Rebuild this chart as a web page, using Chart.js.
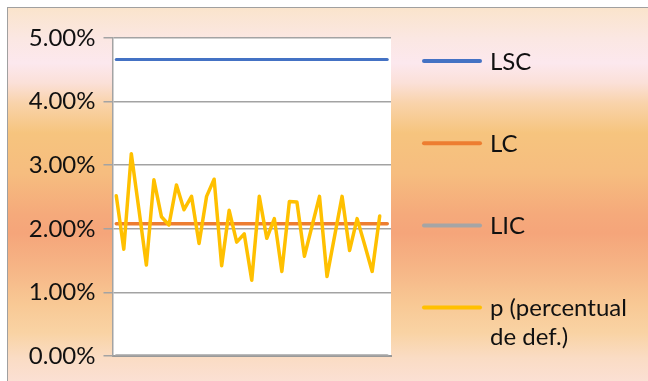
<!DOCTYPE html>
<html lang="es">
<head>
<meta charset="utf-8">
<title>Gráfico p</title>
<script src="https://cdn.jsdelivr.net/npm/chart.js@4/dist/chart.umd.min.js"></script>
<style>
  html, body { margin: 0; padding: 0; background: #fff; }
  #lienzo-wrap { position: absolute; left: 0; top: 0; width: 648px; height: 381px; overflow: hidden; background: #fff; }
  #marco {
    position: absolute; left: 7px; top: 7px; width: 700px; height: 420px;
    border-left: 1.5px solid #a0a0a0; border-top: 1.5px solid #a0a0a0;
    background: linear-gradient(to bottom,
      #fae4cc 0px, #fbe7e2 30px, #fce8ee 55px, #fbe0d8 75px, #f9d3ab 95px,
      #f6c47e 125px, #f6bd7f 165px, #f5aa7b 205px, #f5a57a 225px,
      #f6b586 260px, #f8c894 295px, #f9d3a4 325px, #fadcc4 350px, #fbe0d4 374px);
  }
  canvas { position: absolute; left: 0; top: 0; }
</style>
</head>
<body>
<div id="lienzo-wrap">
  <div id="marco"></div>
  <canvas id="graficaP" width="648" height="381"></canvas>
</div>
<script>
// ─── Datos (en %) ─────────────────────────────────────────────────────────────
const muestras = ['1','2','3','4','5','6','7','8','9','10','11','12','13','14','15','16','17','18','19',
  '20','21','22','23','24','25','26','27','28','29','30','31','32','33','34','35','36','37'];

const valoresP = [2.52, 1.68, 3.18, 2.31, 1.43, 2.77, 2.19, 2.06, 2.69, 2.30, 2.51, 1.77, 2.51, 2.78,
  1.42, 2.29, 1.79, 1.92, 1.19, 2.51, 1.85, 2.16, 1.33, 2.43, 2.42, 1.57, 2.04, 2.51, 1.25, 1.88,
  2.51, 1.66, 2.16, 1.75, 1.33, 2.20, null];

const lsc = muestras.map(() => 4.66);
const lc  = muestras.map(() => 2.08);
const lic = muestras.map(() => 0);

const ticksY = [0, 1, 2, 3, 4, 5];

// Colores tipo Excel
const COLORES = {
  lsc: '#4472C4',
  lc:  '#ED7D31',
  lic: '#A5A5A5',
  p:   '#FFC000'
};

const FUENTE = 'Lato, "Open Sans", sans-serif';

// ─── Fondo blanco del área de trazado ─────────────────────────────────────────
const fondoArea = {
  id: 'fondoArea',
  beforeDraw(chart) {
    const { ctx, chartArea: a } = chart;
    ctx.save();
    ctx.fillStyle = '#ffffff';
    ctx.fillRect(a.left, a.top, a.right - a.left, a.bottom - a.top);
    ctx.restore();
  }
};

// ─── Leyenda a la derecha (una entrada cada ~82 px) ──────────────────────────
const leyendaDerecha = {
  id: 'leyendaDerecha',
  afterDraw(chart) {
    const ctx = chart.ctx;
    const x0 = chart.chartArea.right + 33;
    ctx.save();
    ctx.font = '24px ' + FUENTE;
    ctx.textBaseline = 'middle';
    chart.data.datasets.forEach((ds, i) => {
      const y = 61 + i * 82.2;
      ctx.strokeStyle = ds.borderColor;
      ctx.lineWidth = 4;
      ctx.lineCap = 'round';
      ctx.beginPath();
      ctx.moveTo(x0, y);
      ctx.lineTo(x0 + 56, y);
      ctx.stroke();

      // partir el texto en líneas de máx. 150 px
      const palabras = ds.label.split(' ');
      const lineas = [];
      let actual = '';
      palabras.forEach(w => {
        const prueba = actual ? actual + ' ' + w : w;
        if (actual && ctx.measureText(prueba).width > 150) {
          lineas.push(actual);
          actual = w;
        } else {
          actual = prueba;
        }
      });
      lineas.push(actual);

      ctx.fillStyle = '#111';
      lineas.forEach((t, k) => ctx.fillText(t, x0 + 66, y + 1 + k * 29));
    });
    ctx.restore();
  }
};

// ─── Gráfica ──────────────────────────────────────────────────────────────────
function crearSerie(label, datos, color, ancho, orden) {
  return {
    label: label,
    data: datos,
    borderColor: color,
    backgroundColor: color,
    borderWidth: ancho,
    pointRadius: 0,
    tension: 0,
    fill: false,
    borderJoinStyle: 'round',
    borderCapStyle: 'round',
    order: orden
  };
}

new Chart(document.getElementById('graficaP'), {
  type: 'line',
  data: {
    labels: muestras,
    datasets: [
      crearSerie('LSC', lsc, COLORES.lsc, 3, 1),
      crearSerie('LC', lc, COLORES.lc, 3.5, 2),
      crearSerie('LIC', lic, COLORES.lic, 3.5, 3),
      crearSerie('p (percentual de def.)', valoresP, COLORES.p, 3.5, 0)
    ]
  },
  options: {
    responsive: false,
    animation: false,
    devicePixelRatio: 1,
    layout: { padding: { left: 0, top: 38, right: 257, bottom: 25 } },
    plugins: {
      legend: { display: false },
      tooltip: { enabled: false }
    },
    scales: {
      x: {
        type: 'category',
        offset: true,
        grid: { display: false, drawTicks: false },
        ticks: { display: false },
        border: { display: true, color: '#999', width: 2 },
        afterFit(scale) { scale.height = 0; }
      },
      y: {
        min: 0,
        max: 5,
        afterBuildTicks(scale) { scale.ticks = ticksY.map(v => ({ value: v })); },
        afterFit(scale) { scale.width = 112.5; },
        ticks: {
          padding: 8,
          color: '#111',
          font: { family: FUENTE, size: 24 },
          callback: v => v.toFixed(2) + '%'
        },
        grid: { color: '#a3a3a3', lineWidth: 1.5, tickLength: 9, tickColor: '#a3a3a3' },
        border: { display: true, color: '#a3a3a3', width: 1.5 }
      }
    }
  },
  plugins: [fondoArea, leyendaDerecha]
});
</script>
</body>
</html>
